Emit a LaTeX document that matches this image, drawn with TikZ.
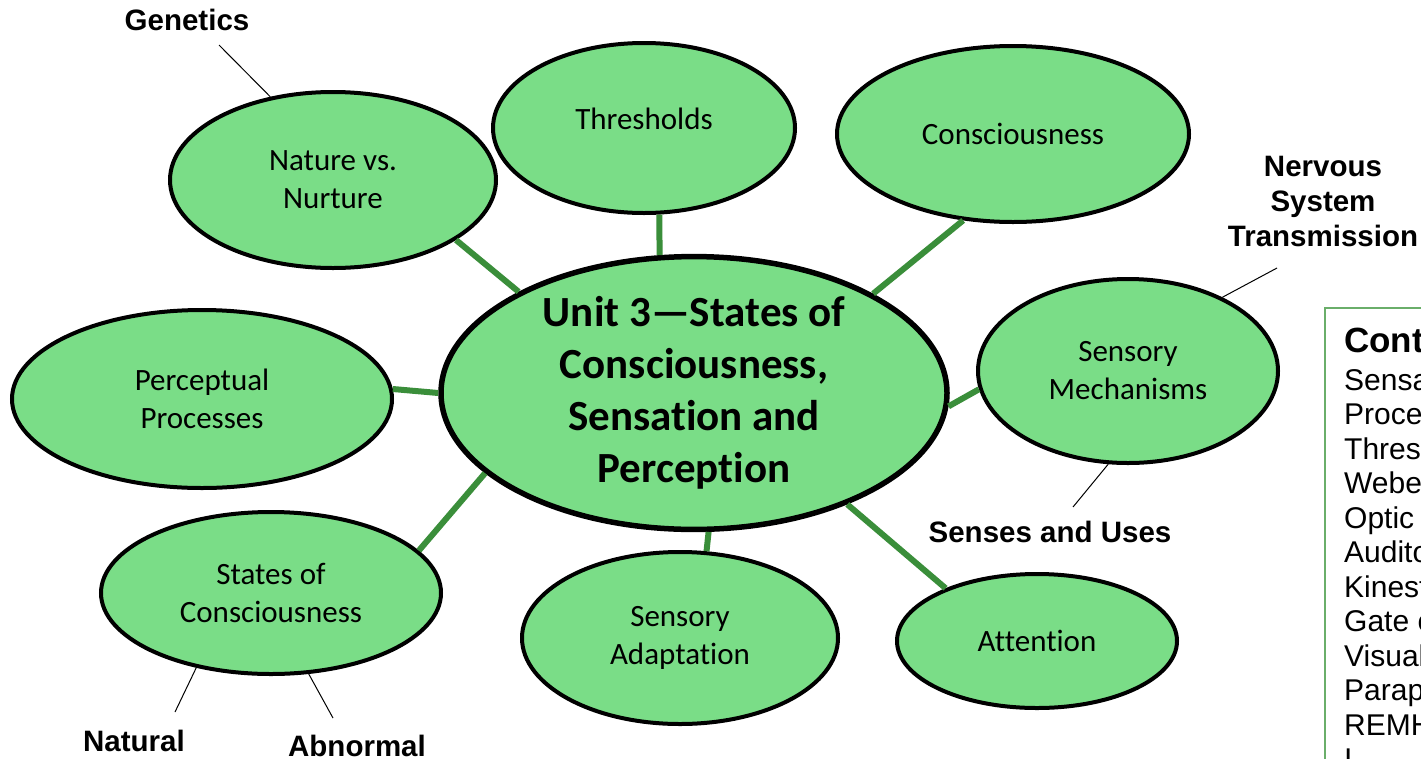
\documentclass[tikz,border=0pt]{standalone}
\usepackage{fontspec}
\setmainfont{Carlito}[Ligatures=NoCommon]
\newfontfamily\arialf{Liberation Sans}
\usetikzlibrary{shapes.geometric}
\definecolor{bubble}{HTML}{7ADD87}
\definecolor{linkgreen}{HTML}{3A8E3A}
\definecolor{boxgreen}{HTML}{6AAE6A}
\tikzset{
  bub/.style={ellipse, draw=black, line width=4pt, fill=bubble, inner sep=0pt,
    align=center, font=\fontsize{31}{38}\selectfont},
  hub/.style={bub, line width=5.5pt, font=\bfseries\fontsize{43}{52}\selectfont},
  link/.style={draw=linkgreen, line width=6pt},
  tag/.style={align=center, font=\arialf\bfseries\fontsize{29.5}{35}\selectfont, inner sep=0pt},
  tagline/.style={draw=black, line width=1pt},
  listtext/.style={anchor=base west, inner sep=0pt, font=\arialf\fontsize{30}{34}\selectfont}
}
\begin{document}
\begin{tikzpicture}[x=1pt,y=-1pt]
\useasboundingbox (0,0) rectangle (1421,758);
\clip (0,0) rectangle (1421,758);
\fill[white] (0,0) rectangle (1421,758);

% nodes
\node[hub, minimum width=506pt, minimum height=262pt] (ctr) at (694,393)
  {Unit 3---States of\\Consciousness,\\Sensation and\\Perception};
\node[bub, minimum width=302pt, minimum height=170pt] (thr) at (644,128) {\raisebox{18pt}{Thresholds}};
\node[bub, minimum width=352pt, minimum height=176pt] (con) at (1013,134) {Consciousness};
\node[bub, minimum width=326pt, minimum height=176pt] (nat) at (333,180) {Nature vs.\\Nurture};
\node[bub, minimum width=300pt, minimum height=184pt] (sme) at (1128,371) {Sensory\\Mechanisms};
\node[bub, minimum width=380pt, minimum height=178pt] (per) at (202,399) {Perceptual\\Processes};
\node[bub, minimum width=340pt, minimum height=162pt] (sta) at (271,593) {States of\\Consciousness};
\node[bub, minimum width=316pt, minimum height=172pt] (sad) at (680,638) {Sensory\\Adaptation};
\node[bub, minimum width=280pt, minimum height=134pt] (att) at (1037,641) {Attention};

% green links
\draw[link] (nat.-26.6) -- (ctr.150);
\draw[link] (thr.-80.6) -- (ctr.104);
\draw[link] (con.-120.5) -- (ctr.29);
\draw[link] (sme.187.9) -- (ctr.-3.8);
\draw[link] (per.3.3) -- (ctr.180.7);
\draw[link] (sta.16.8) -- (ctr.201.4);
\draw[link] (sad.73.2) -- (ctr.-84.8);
\draw[link] (att.150) -- (ctr.-36.2);

% labels
\node[tag] (gen) at (187,20) {Genetics};
\node[tag] (nst) at (1323,201) {Nervous\\System\\Transmission};
\node[tag] (seu) at (1050,532) {Senses and Uses};
\node[tag] (ntl) at (134,741) {Natural};
\node[tag] (abn) at (357,746) {Abnormal};
\coordinate (genE) at (219,45);
\coordinate (nstE) at (1277,268);
\coordinate (seuE) at (1073,507);
\coordinate (ntlE) at (175,712);
\coordinate (abnE) at (333,718);
\draw[tagline] (genE) -- (nat.127);
\draw[tagline] (nstE) -- (sme.38.8);
\draw[tagline] (seuE) -- (sme.-102.3);
\draw[tagline] (ntlE) -- (sta.225.8);
\draw[tagline] (abnE) -- (sta.-65.2);

% content box (cut by the picture edge)
\node[draw=boxgreen, line width=1.5pt, fill=white, minimum width=200pt, minimum height=520pt,
  anchor=north west, inner sep=0pt] (box) at (1324,307) {};
\node[listtext, font=\arialf\bfseries\fontsize{35}{40}\selectfont] (bt) at (1344,352) {Cont};
\node[listtext] (l1) at (1344,390) {Sensa};
\node[listtext] (l2) at (1344,424.5) {Proce};
\node[listtext] (l3) at (1344,459) {Thresh};
\node[listtext] (l4) at (1344,493.5) {Webe};
\node[listtext] (l5) at (1344,528) {Optic};
\node[listtext] (l6) at (1344,562.5) {Audito};
\node[listtext] (l7) at (1344,597) {Kinest};
\node[listtext] (l8) at (1344,631.5) {Gate o};
\node[listtext] (l9) at (1344,666) {Visual};
\node[listtext] (l10) at (1344,700.5) {Parap};
\node[listtext] (l11) at (1344,735) {REMH};
\node[listtext] (l12) at (1344,769.5) {I};
\end{tikzpicture}
\end{document}
